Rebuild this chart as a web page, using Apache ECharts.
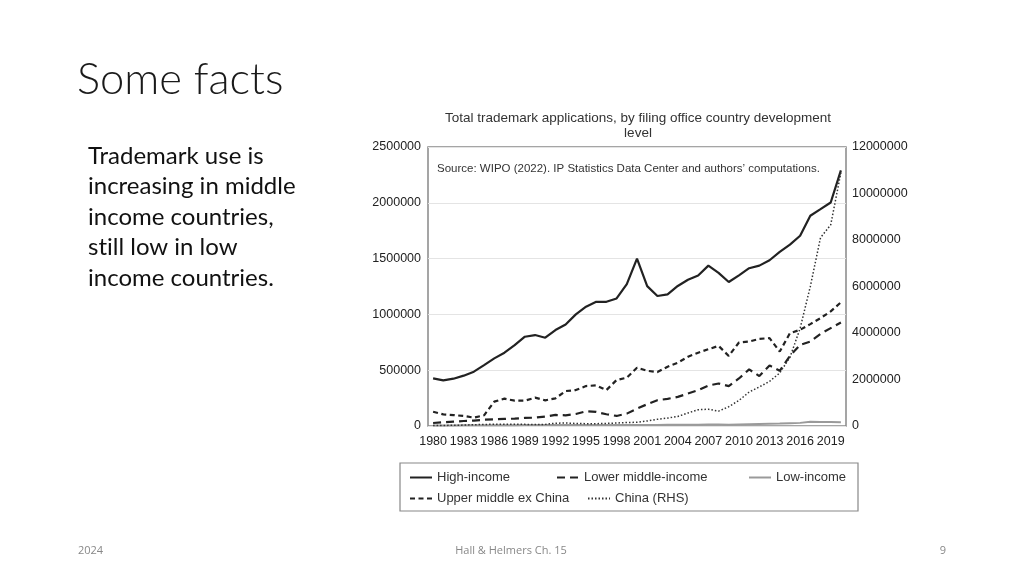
<!DOCTYPE html>
<html>
<head>
<meta charset="utf-8">
<script src="https://cdn.jsdelivr.net/npm/echarts@6/dist/echarts.min.js"></script>
<style>
html,body{margin:0;padding:0;background:#fff;}
#c{width:1024px;height:576px;}
</style>
</head>
<body>
<div id="c"></div>
<script>
const years = ['1980','1981','1982','1983','1984','1985','1986','1987','1988','1989','1990','1991','1992','1993','1994','1995','1996','1997','1998','1999','2000','2001','2002','2003','2004','2005','2006','2007','2008','2009','2010','2011','2012','2013','2014','2015','2016','2017','2018','2019','2020'];
const highIncome = [427000,409000,424000,451000,487000,546000,606000,657000,725000,800000,815000,791000,860000,910000,1000000,1069000,1113000,1113000,1143000,1272000,1500000,1253000,1165000,1180000,1255000,1310000,1348000,1437000,1372000,1290000,1350000,1414000,1437000,1485000,1560000,1625000,1705000,1884000,1943000,2003000,2290000];
const lowerMiddle = [27000,33000,39000,45000,48000,57000,60000,63000,66000,72000,75000,84000,99000,96000,108000,132000,126000,105000,90000,111000,156000,195000,231000,243000,261000,291000,321000,363000,381000,357000,426000,507000,447000,543000,495000,628000,727000,757000,826000,877000,928000];
const lowIncome = [5000,5000,5000,6000,6000,6000,7000,7000,7000,8000,8000,8000,8000,8000,8000,9000,9000,9000,10000,10000,10000,10000,10000,11000,11000,12000,12000,13000,13000,12000,14000,16000,18000,20000,22000,25000,28000,38000,36000,35000,33000];
const upperMiddleExChina = [128000,104000,98000,90000,75000,96000,218000,245000,227000,227000,254000,230000,248000,313000,322000,358000,364000,322000,412000,433000,522000,495000,483000,531000,567000,621000,657000,688000,718000,628000,748000,757000,781000,787000,667000,832000,862000,913000,967000,1027000,1108000];
const chinaRHS = [20000,25000,30000,40000,55000,65000,75000,70000,75000,70000,60000,70000,120000,130000,110000,100000,100000,110000,130000,150000,160000,215000,290000,340000,410000,560000,700000,720000,640000,830000,1100000,1460000,1680000,1920000,2280000,2950000,4200000,6000000,8100000,8650000,10900000];
const leftTicks = {min:0, max:2500000, interval:500000};
const rightTicks = {min:0, max:12000000, interval:2000000};
const seriesNames = ['High-income','Lower middle-income','Low-income','Upper middle ex China','China (RHS)'];
const slideTitle = 'Some facts';
const bodyLines = ['Trademark use is','increasing in middle','income countries,','st\u200Cill low in low','income countries.'];
const chartTitle = 'Total trademark applications, by filing office country development\nlevel';
const sourceNote = 'Source: WIPO (2022). IP Statistics Data Center and authors\u2019 computations.';

const chart = echarts.init(document.getElementById('c'));
const FONT = '"Liberation Sans", Arial, sans-serif';
const lineSeries = (name, data, style, yIdx) => ({
  name, type:'line', data, yAxisIndex:yIdx||0, symbol:'none', showSymbol:false,
  lineStyle: style, itemStyle:{color: style.color}, z: 3, animation:false
});
const legendBase = {
  itemWidth:22, itemHeight:10, itemGap:20, itemStyle:{opacity:0},
  textStyle:{fontFamily:FONT, fontSize:13, color:'#333'}, padding:0, selectedMode:false
};
const graphics = [
  {type:'text', left:77, top:58, style:{text:slideTitle, fontFamily:'Lato, "Open Sans", sans-serif', fontWeight:300, fontSize:43.5, fill:'#1a1a1a'}},
  {type:'rect', shape:{x:400, y:463, width:458, height:48}, style:{fill:'none', stroke:'#888', lineWidth:1.2}},
  {type:'text', left:437, top:163, z:10, style:{text:sourceNote, fontFamily:FONT, fontSize:11.5, fill:'#333'}},
  {type:'text', left:78, top:545, style:{text:'2024', fontFamily:'"Open Sans", sans-serif', fontSize:11, fill:'#888'}},
  {type:'text', x:511, y:551, style:{text:'Hall & Helmers Ch. 15', fontFamily:'"Open Sans", sans-serif', fontSize:11, fill:'#888', align:'center', verticalAlign:'middle'}},
  {type:'text', x:946, y:551, style:{text:'9', fontFamily:'"Open Sans", sans-serif', fontSize:11, fill:'#888', align:'right', verticalAlign:'middle'}}
];
bodyLines.forEach((t,i)=>{
  graphics.push({type:'text', x:88, y:156 + i*30.5, style:{text:t, fontFamily:'Lato, "Open Sans", sans-serif', fontSize:24, fill:'#111', verticalAlign:'middle'}});
});
const plain = v => String(v);

chart.setOption({
  animation:false,
  title:{text:chartTitle, left:633, top:106, textAlign:'center',
    textStyle:{fontFamily:FONT, fontSize:13.5, fontWeight:'normal', color:'#333', lineHeight:15}},
  grid:{left:428, right:178, top:147, bottom:150, show:true, borderColor:'#888', borderWidth:1.5, containLabel:false},
  xAxis:{type:'category', data:years, boundaryGap:true,
    axisLine:{show:false}, axisTick:{show:false},
    axisLabel:{interval:2, margin:9, fontFamily:FONT, fontSize:12.5, color:'#222'}},
  yAxis:[
    {type:'value', min:leftTicks.min, max:leftTicks.max, interval:leftTicks.interval,
     axisLine:{show:false}, axisTick:{show:false},
     axisLabel:{margin:7, fontFamily:FONT, fontSize:12.5, color:'#222', formatter:plain},
     splitLine:{lineStyle:{color:'#e4e4e4', width:1}}},
    {type:'value', min:rightTicks.min, max:rightTicks.max, interval:rightTicks.interval, position:'right',
     axisLine:{show:false}, axisTick:{show:false},
     axisLabel:{margin:6, fontFamily:FONT, fontSize:12.5, color:'#222', formatter:plain},
     splitLine:{show:false}}
  ],
  legend:[
    Object.assign({}, legendBase, {left:409, top:471, data:[seriesNames[0]]}),
    Object.assign({}, legendBase, {left:556, top:471, data:[seriesNames[1]]}),
    Object.assign({}, legendBase, {left:748, top:471, data:[seriesNames[2]]}),
    Object.assign({}, legendBase, {left:409, top:492, data:[seriesNames[3]]}),
    Object.assign({}, legendBase, {left:587, top:492, data:[seriesNames[4]]})
  ],
  series:[
    lineSeries(seriesNames[0], highIncome, {color:'#222', width:2.2, type:'solid'}),
    lineSeries(seriesNames[1], lowerMiddle, {color:'#222', width:2.2, type:[8,5]}),
    lineSeries(seriesNames[2], lowIncome, {color:'#9a9a9a', width:2, type:'solid'}),
    lineSeries(seriesNames[3], upperMiddleExChina, {color:'#222', width:2.2, type:[5,3.5]}),
    lineSeries(seriesNames[4], chinaRHS, {color:'#333', width:1.5, type:[1.5,2]}, 1)
  ],
  graphic: graphics
});
</script>
</body>
</html>
